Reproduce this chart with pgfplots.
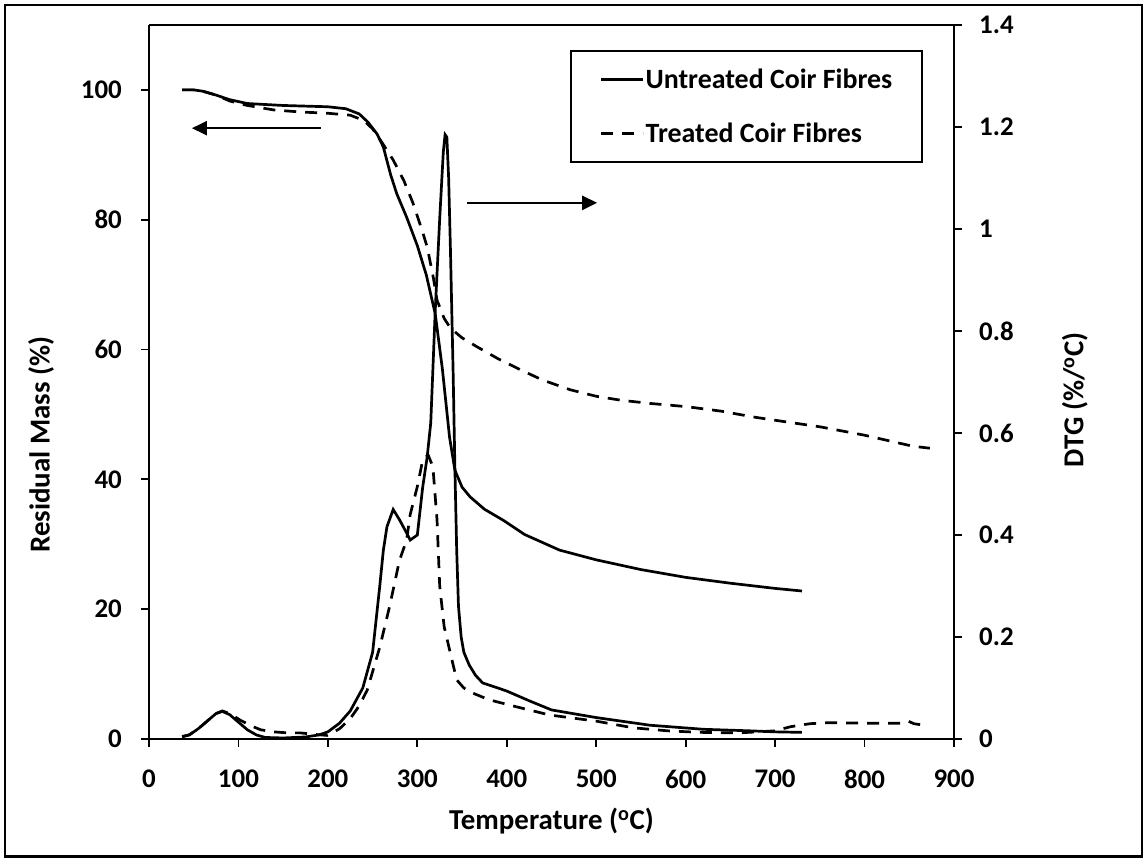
\documentclass[border=0pt]{standalone}
\usepackage{pgfplots}
\pgfplotsset{compat=1.18}
\usepackage{pgfplotstable}
\usetikzlibrary{arrows.meta}
\usepackage{fontspec}
\setmainfont{Carlito}

\pgfplotstableread{
T M
37 100
50 100
60 99.8
75 99.2
90 98.5
110 97.9
150 97.6
200 97.4
220 97.1
235 96.3
245 95
255 93.2
262 91.2
270 87
277 84
288 80.4
300 76
310 71.5
320 65.5
328 57
336 46.5
342 41.4
350 38.8
359 37.3
375 35.4
396 33.7
420 31.5
459 29.1
500 27.6
550 26.1
600 24.9
650 24.0
700 23.2
730 22.8
}\massU

\pgfplotstableread{
T M
37 100
50 100
60 99.8
75 99.2
90 98.3
110 97.6
140 96.9
169 96.6
200 96.4
225 96.1
240 95.3
250 94
260 92
273 89.2
285 86
295 82.6
305 78.5
311 75.8
318 71
322 67.6
330 64.8
337 63.3
350 61.8
367 60.4
390 58.6
415 56.9
440 55.3
471 53.8
500 52.8
527 52.2
560 51.7
601 51.2
640 50.5
676 49.6
710 48.9
750 48.1
800 46.8
854 45.1
873 44.8
}\massT

\pgfplotstableread{
T D
37 0.005
45 0.008
55 0.02
65 0.035
75 0.05
82 0.054
90 0.048
100 0.033
110 0.018
120 0.008
130 0.003
150 0.002
175 0.004
190 0.008
200 0.014
213 0.031
225 0.055
239 0.10
250 0.17
258 0.30
262 0.37
266 0.416
273 0.45
280 0.43
288 0.404
292 0.39
300 0.40
306 0.494
311 0.553
315 0.62
320 0.84
325 1.02
329 1.15
331 1.185
333 1.18
335 1.10
337 0.96
340 0.72
342 0.53
344 0.37
346 0.26
349 0.20
352 0.17
358 0.145
365 0.125
373 0.11
390 0.10
400 0.094
425 0.075
450 0.057
500 0.042
560 0.027
620 0.019
672 0.016
700 0.014
730 0.013
}\dtgU

\pgfplotstableread{
T D
37 0.004
45 0.008
55 0.02
65 0.035
75 0.05
82 0.055
90 0.05
102 0.037
115 0.025
125 0.018
139 0.014
155 0.012
169 0.012
185 0.009
199 0.007
213 0.02
225 0.04
235 0.065
244 0.096
258 0.18
269 0.26
280 0.35
288 0.39
292 0.44
300 0.495
306 0.547
312 0.557
316 0.54
318 0.52
322 0.43
325 0.30
330 0.22
336 0.175
344 0.116
352 0.10
362 0.09
380 0.077
411 0.063
448 0.047
500 0.035
541 0.022
580 0.016
616 0.013
660 0.012
700 0.016
717 0.024
739 0.03
760 0.032
800 0.031
821 0.031
840 0.031
849 0.035
855 0.03
870 0.026
}\dtgT

\begin{document}
\begin{tikzpicture}[x=1bp,y=1bp]
\fill[white] (0,0) rectangle (1145,858);
\draw[line width=2.5bp] (5,1.5) rectangle (1142,853);

\pgfplotsset{
  base/.style={
    at={(149bp,119bp)}, anchor=south west,
    width=805bp, height=714bp, scale only axis,
    xmin=0, xmax=900,
    tick align=outside,
    major tick length=8bp,
    tick style={line width=1.8bp, black},
    every tick label/.append style={inner sep=0pt, font=\fontsize{27}{32}\selectfont\bfseries},
    label style={font=\fontsize{29}{34}\selectfont\bfseries},
    separate axis lines,
    axis line style={line width=1.8bp},
  },
  uline/.style={black, line width=2.7bp},
  tline/.style={black, line width=2.7bp, dash pattern=on 12bp off 9bp},
}

\begin{axis}[base,
  ymin=0, ymax=110,
  xtick={0,100,200,300,400,500,600,700,800,900},
  xticklabels={0,100,200,300,400,500,600,700,800,900},
  ytick={0,20,40,60,80,100},
  yticklabels={0,20,40,60,80,100},
  xtick pos=bottom, ytick pos=left,
  yticklabel style={xshift=-19bp},
  xticklabel style={yshift=-23bp},
  xlabel={Temperature (\textsuperscript{o}C)},
  ylabel={Residual Mass (\%)},
  xlabel style={at={(rel axis cs:0.5,0)}, anchor=center, yshift=-82bp},
  ylabel style={at={(axis description cs:-0.134,0.412)}, anchor=center},
]
\addplot[uline] table[x=T,y=M] {\massU};
\addplot[tline] table[x=T,y=M] {\massT};
\draw[line width=2.5bp, -{Triangle[length=15bp,width=14bp]}] (axis cs:192,94.1) -- (axis cs:48,94.1);
\draw[line width=2.5bp, -{Triangle[length=15bp,width=14bp]}] (axis cs:355.5,82.6) -- (axis cs:501,82.6);
\end{axis}

\begin{axis}[base,
  ymin=0, ymax=1.4,
  axis x line=none,
  axis y line*=right,
  ytick={0,0.2,0.4,0.6,0.8,1,1.2,1.4},
  yticklabels={0,0.2,0.4,0.6,0.8,1,1.2,1.4},
  yticklabel style={xshift=17bp},
  ylabel={DTG (\%/\textsuperscript{o}C)},
  ylabel style={at={(axis description cs:1.150,0.475)}, anchor=center},
  legend cell align=left,
  legend image code/.code={\draw[#1] (0bp,0bp) -- (42bp,0bp);},
  legend style={at={(rel axis cs:0.523,0.965)}, anchor=north west,
    draw=black, line width=1.8bp, fill=white,
    font=\fontsize{28}{33}\selectfont\bfseries,
    inner xsep=29bp, inner ysep=17bp, row sep=31bp,
    nodes={inner sep=1bp},
    /tikz/every even column/.append style={column sep=4bp}},
]
\addplot[uline] table[x=T,y=D] {\dtgU};
\addlegendentry{Untreated Coir Fibres}
\addplot[tline] table[x=T,y=D] {\dtgT};
\addlegendentry{Treated Coir Fibres}
\end{axis}
\end{tikzpicture}
\end{document}
